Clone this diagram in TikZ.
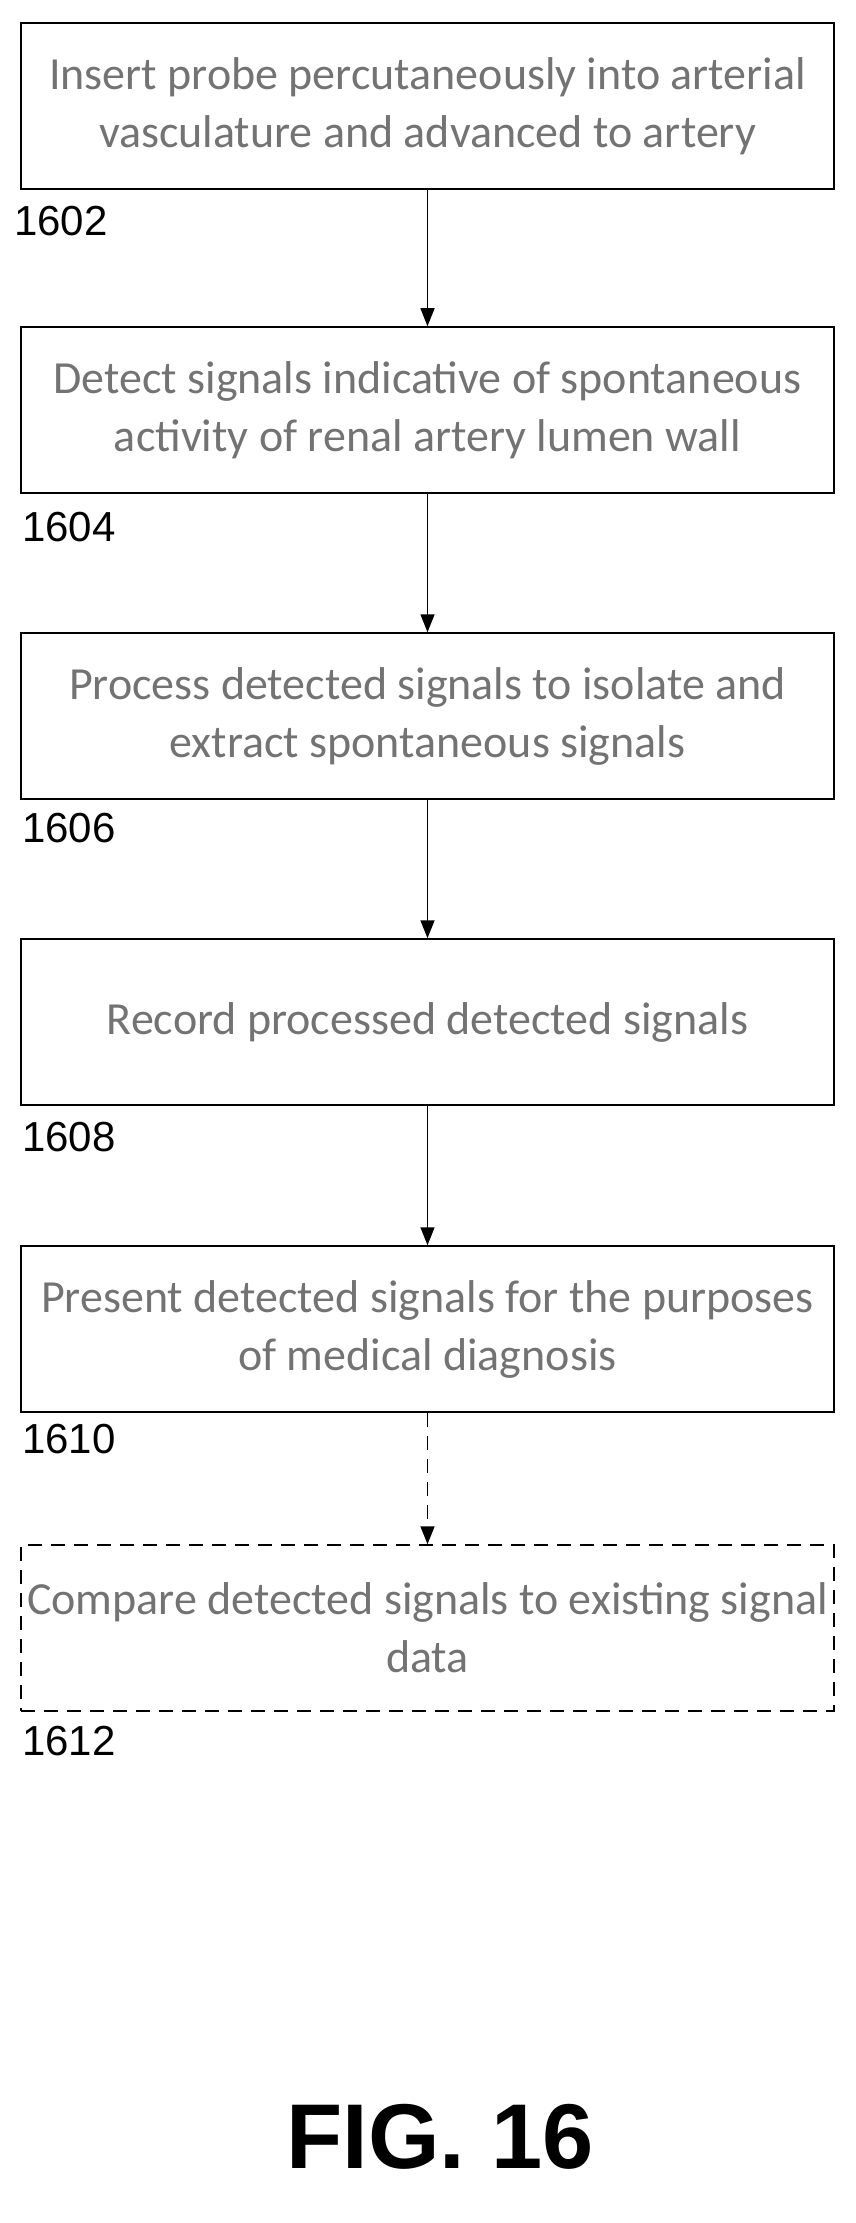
\documentclass[tikz,border=0pt]{standalone}
\usepackage{fontspec}
\setmainfont{Carlito}
\newfontfamily\arialf{Liberation Sans}
\usetikzlibrary{arrows.meta}
\begin{document}
\begin{tikzpicture}[x=1pt,y=-1pt,
  box/.style={draw=black,line width=1.5pt,minimum width=813pt,minimum height=166pt,align=center,text=black!55,font=\fontsize{46}{58}\selectfont,inner sep=0pt},
  dbox/.style={box,dashed,dash pattern=on 14pt off 9pt},
  lab/.style={anchor=west,font=\arialf\fontsize{42}{44}\selectfont,inner sep=0pt},
  arr/.style={-{Triangle[length=18pt,width=14pt]},line width=1.5pt}]
\useasboundingbox (0,0) rectangle (855,2223);
\node[box] (b1) at (427.5,106) {Insert probe percutaneously into arterial\\vasculature and advanced to artery};
\node[box] (b2) at (427.5,410) {Detect signals indicative of spontaneous\\activity of renal artery lumen wall};
\node[box] (b3) at (427.5,716) {Process detected signals to isolate and\\extract spontaneous signals};
\node[box] (b4) at (427.5,1022) {Record processed detected signals};
\node[box] (b5) at (427.5,1329) {Present detected signals for the purposes\\of medical diagnosis};
\node[dbox] (b6) at (427.5,1628) {Compare detected signals to existing signal\\data};
\node[lab] (l1) at (14,221) {1602};
\node[lab] (l2) at (22,527) {1604};
\node[lab] (l3) at (22,828) {1606};
\node[lab] (l4) at (22,1137) {1608};
\node[lab] (l5) at (22,1439) {1610};
\node[lab] (l6) at (22,1741) {1612};
\draw[arr] (b1) -- (b2);
\draw[arr] (b2) -- (b3);
\draw[arr] (b3) -- (b4);
\draw[arr] (b4) -- (b5);
\draw[arr,dashed,dash pattern=on 14pt off 9pt] (b5) -- (b6);
\node[font=\arialf\bfseries\fontsize{92}{92}\selectfont] (fig) at (440,2137) {FIG. 16};
\end{tikzpicture}
\end{document}
